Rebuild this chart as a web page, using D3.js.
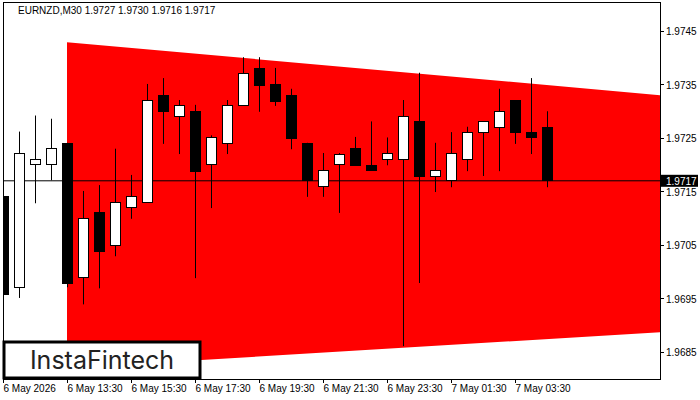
<!DOCTYPE html>
<html><head><meta charset="utf-8">
<script src="https://cdn.jsdelivr.net/npm/d3@7"></script>
<style>body{margin:0;background:#fff}svg{display:block}</style>
</head><body><svg id="c" width="700" height="400"></svg>
<script>
const opens  = [1.97141,1.96971,1.97201,1.97201,1.97241,1.96990,1.97112,1.97050,1.97121,1.97130,1.97330,1.97291,1.97300,1.97201,1.97241,1.97312,1.97381,1.97351,1.97330,1.97241,1.97160,1.97201,1.97231,1.97199,1.97211,1.97211,1.97282,1.97179,1.97171,1.97211,1.97261,1.97271,1.97321,1.97261,1.97271];
const highs  = [1.97141,1.97262,1.97292,1.97286,1.97241,1.97151,1.97162,1.97230,1.97181,1.97351,1.97362,1.97321,1.97312,1.97255,1.97321,1.97401,1.97401,1.97381,1.97342,1.97241,1.97222,1.97222,1.97252,1.97281,1.97251,1.97321,1.97372,1.97241,1.97261,1.97271,1.97271,1.97342,1.97321,1.97362,1.97300];
const lows   = [1.96958,1.96951,1.97128,1.97171,1.96971,1.96939,1.96969,1.97029,1.97099,1.97130,1.97239,1.97220,1.96988,1.97119,1.97220,1.97312,1.97299,1.97310,1.97229,1.97140,1.97140,1.97110,1.97199,1.97199,1.97199,1.96861,1.96979,1.97149,1.97158,1.97188,1.97179,1.97188,1.97239,1.97220,1.97158];
const closes = [1.96958,1.97222,1.97211,1.97231,1.96979,1.97101,1.97039,1.97130,1.97141,1.97321,1.97300,1.97312,1.97188,1.97252,1.97312,1.97371,1.97349,1.97319,1.97250,1.97171,1.97190,1.97220,1.97199,1.97190,1.97222,1.97291,1.97179,1.97190,1.97222,1.97261,1.97282,1.97300,1.97261,1.97252,1.97171];
const xLabels = ["6 May 2026","6 May 13:30","6 May 15:30","6 May 17:30","6 May 19:30","6 May 21:30","6 May 23:30","7 May 01:30","7 May 03:30"];
const yTicks = [1.9685,1.9695,1.9705,1.9715,1.9725,1.9735,1.9745];
const triTop = [1.97429,1.97330];
const triBottom = [1.96820,1.96887];
const triIdx = [4,41.0625];
const lastPrice = 1.9717;
const header = "EURNZD,M30  1.9727 1.9730 1.9716 1.9717";

const svg = d3.select("#c");
const L=3,R=660,T=2,B=379;
const x = d3.scaleLinear().domain([0,41.0625]).range([L,R]);
const y = d3.scaleLinear().domain([1.9685,1.9745]).range([352,31]);
const font="'Liberation Sans', Arial, sans-serif";
const fs=10;

svg.append("defs").append("clipPath").attr("id","pc").append("rect").attr("x",L).attr("y",T).attr("width",R-L).attr("height",B-T);
const g = svg.append("g").attr("clip-path","url(#pc)");
g.append("polygon").attr("fill","#ff0000").attr("points",[
 [x(triIdx[0]),y(triTop[0])],[x(triIdx[1]),y(triTop[1])],[x(triIdx[1]),y(triBottom[1])],[x(triIdx[0]),y(triBottom[0])]].map(p=>p.join(",")).join(" "));
g.append("line").attr("x1",L).attr("x2",R).attr("y1",y(lastPrice)).attr("y2",y(lastPrice)).attr("stroke","#000");
opens.forEach((o,i)=>{
  const c=closes[i], cx=Math.round(x(i))+0.5;
  g.append("line").attr("x1",cx).attr("x2",cx).attr("y1",y(highs[i])).attr("y2",y(lows[i])).attr("stroke","#000");
  const top=Math.round(y(Math.max(o,c))), bot=Math.round(y(Math.min(o,c)));
  g.append("rect").attr("x",cx-5).attr("y",top+0.5).attr("width",10).attr("height",Math.max(1,bot-top))
   .attr("fill",c>=o?"#fff":"#000").attr("stroke","#000");
});
svg.append("rect").attr("x",L+0.5).attr("y",T+0.5).attr("width",R-L).attr("height",B-T).attr("fill","none").attr("stroke","#000");
yTicks.forEach(v=>{
  svg.append("line").attr("x1",R).attr("x2",R+4).attr("y1",Math.round(y(v))+0.5).attr("y2",Math.round(y(v))+0.5).attr("stroke","#000");
  svg.append("text").attr("x",R+6).attr("y",y(v)+4).attr("font-family",font).attr("font-size",fs).text(v.toFixed(4));
});
svg.append("rect").attr("x",R+1).attr("y",y(lastPrice)-6).attr("width",37).attr("height",12).attr("fill","#000");
svg.append("text").attr("x",R+6).attr("y",y(lastPrice)+4).attr("font-family",font).attr("font-size",fs).attr("fill","#fff").text(lastPrice.toFixed(4));
xLabels.forEach((t,k)=>{
  const px=Math.round(x(k*4))+0.5;
  svg.append("line").attr("x1",px).attr("x2",px).attr("y1",B).attr("y2",B+4).attr("stroke","#000");
  svg.append("text").attr("x",px).attr("y",B+13).attr("font-family",font).attr("font-size",fs).text(t);
});
svg.append("text").attr("x",18).attr("y",14).attr("font-family",font).attr("font-size",fs).text(header);
svg.append("rect").attr("x",4).attr("y",342).attr("width",196).attr("height",36).attr("fill","#fff").attr("stroke","#000").attr("stroke-width",3);
svg.append("text").attr("x",102).attr("y",369).attr("text-anchor","middle").attr("font-family","Inter, 'Open Sans', sans-serif").attr("font-size",25).attr("fill","#222").text("InstaFintech");
</script></body></html>
